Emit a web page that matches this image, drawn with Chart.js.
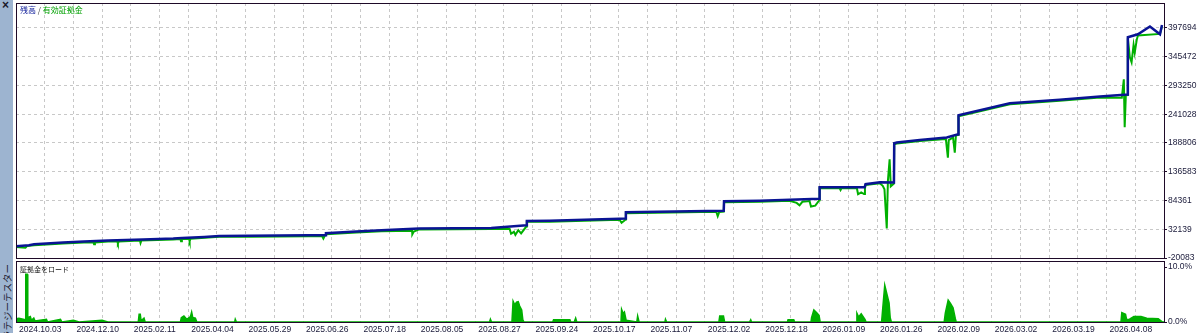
<!DOCTYPE html>
<html lang="ja">
<head>
<meta charset="UTF-8">
<title>ストラテジーテスター</title>
<script src="https://cdn.jsdelivr.net/npm/chart.js@4.4.0/dist/chart.umd.min.js"></script>
<style>
    body { margin: 0; width: 1200px; height: 333px; overflow: hidden; background: #fff; position: relative; font-family: "Liberation Sans", Arial, sans-serif; }
    canvas { position: absolute; left: 0; }
    #c1 { top: 0; }
    #c2 { top: 259px; }
    .side { position: absolute; left: 0; top: 0; width: 13px; height: 333px; background: #9db4d0; }
    .close { position: absolute; left: 2px; top: -2px; font-size: 12px; font-weight: bold; color: #1a1a2a; }
    .vtext { position: absolute; left: 1px; top: 364px; width: 100px; height: 12px; text-align: right; transform: rotate(-90deg); transform-origin: 0 0; font: 9.5px "Noto Sans CJK JP"; color: #202030; line-height: 12px; white-space: nowrap; }
    .title { position: absolute; left: 20px; top: 4px; font: 8px "Noto Sans CJK JP"; white-space: nowrap; line-height: 12px; }
    .load { position: absolute; left: 20px; top: 264px; font: 7px "Noto Sans CJK JP"; color: #101010; white-space: nowrap; line-height: 10px; }
</style>
</head>
<body>
<div class="side"><div class="close">×</div><div class="vtext">ストラテジーテスター</div></div>
<canvas id="c1" width="1200" height="266"></canvas>
<canvas id="c2" width="1200" height="74"></canvas>
<div class="title"><span style="color:#0a1898">残高</span><span style="color:#303030"> / </span><span style="color:#00a000">有効証拠金</span></div>
<div class="load">証拠金をロード</div>

<script>
// x axis is trade-position based: 0..400, one grid every 10, a date every 20
const dates = ['2024.10.03','2024.12.10','2025.02.11','2025.04.04','2025.05.29','2025.06.26','2025.07.18','2025.08.05','2025.08.27','2025.09.24',
               '2025.10.17','2025.11.07','2025.12.02','2025.12.18','2026.01.09','2026.01.26','2026.02.09','2026.03.02','2026.03.19','2026.04.08'];
const yTicks = [-20083, 32139, 84361, 136583, 188806, 241028, 293250, 345472, 397694];
const yLabels = ['-20083','32139','84361','136583','188806','241028','293250','345472','397694'];
const loadTicks = [0, 10];
const loadLabels = ['0.0%', '10.0%'];

// balance
const balX = [0,4.5,6.3,16.4,23.7,32.1,44.3,54.8,57.9,65.6,70.8,81.3,102,107.8,108,118.6,127.3,140.5,165.6,177.9,178,185.9,210.3,212.4,212.5,246.6,246.7,
              259.1,269.6,279.9,280,295.7,296,301,305.9,306,306.9,314.9,324.3,328.3,328.4,346.3,363.7,377.7,387.3,387.4,390.9,395.1,398.6,399.3];
const balY = [1300,3100,4900,8000,9800,11600,13400,15300,16300,18200,20000,20300,21200,21400,24900,28000,30300,33400,34500,39400,47200,47600,51200,51500,63000,65700,83000,
              83900,85700,87500,108400,108400,113900,117500,117000,188300,189600,194300,198700,204700,239200,261000,267300,273100,276800,380800,386300,400300,386300,403000];

// equity
const eqX = [0,3.3,3.8,6.3,16.4,23.7,27,27.2,27.5,32.1,35.3,35.5,35.8,43.2,43.4,43.7,54.8,57.3,57.5,57.8,60.3,60.5,60.8,70.8,81.3,102,106.7,107.1,107.5,108,
             118.6,127.3,138,138.1,138.6,140.5,165.6,172,172.5,173.5,174,175,176,177.8,178,185.9,210.3,211,211.8,212.4,212.5,244,244.5,245,246.6,246.7,
             259.1,269.6,272,273,274,276.5,277,278.5,279.9,280,287,287.3,287.6,293,293.4,294.5,295.5,295.8,296,301,302,302.6,303.4,303.8,304.4,304.8,305.9,
             306,306.9,314.9,324,324.7,325,326.5,327.1,327.5,328.3,328.4,346.3,363.7,377.7,385.3,386,386.3,386.7,387.3,387.4,388.1,388.7,389.4,389.8,390.5,390.9,398.6,399.3];
const eqY = [-300,-1500,1500,3000,6300,8000,8000,4900,8200,9800,9800,6200,9800,11700,7300,11700,13600,14400,10300,14500,14800,10300,14800,18300,18500,19400,19400,15200,19400,23100,
             26200,28500,29600,23000,28000,31800,32800,32800,24000,27500,22000,30500,24500,37000,45600,45800,49400,44000,47000,49800,61300,64000,56000,63300,64300,81300,
             82200,84000,80000,75700,82000,83300,73400,75000,84800,106600,106600,103500,106600,106700,95700,99000,96000,106700,112300,115800,111000,104800,33400,120000,159300,110000,115300,
             186600,187800,192600,196000,162300,194000,199000,171400,203000,203500,237400,259200,265600,271300,271000,304500,217400,275100,276000,379000,344500,335400,367000,353000,376200,384000,387000,401000];

// deposit load, %
const loadX = [0,1,2.5,3.2,3.4,3.9,4.1,5,5.4,6.2,6.6,10.6,11,15.5,16,20,22,30,32,42.6,42.9,43.3,43.6,44.6,45,57.3,57.6,58.5,59.5,60.8,61.2,61.6,62.5,63,76.2,76.4,76.8,
               165,165.3,165.7,172.8,173.2,173.8,174.4,175,175.5,176.2,176.6,177,187,187.3,193,193.3,194.5,195,195.4,210.8,211,211.6,212,212.6,216.3,216.6,217.1,226.1,226.3,226.7,
               244.9,245.2,246.5,246.9,255.6,256,256.3,268.8,269,271,271.3,277,277.2,278,279,279.8,280.2,292.9,293,293.6,294.5,295.8,296.2,
               301.6,302,302.7,303.4,304.2,304.6,305,323.4,323.8,324.8,325.6,326.5,327.3,327.6,385,385.3,386.6,387,388,389.5,392,394,398,399.5,400];
const loadY = [0.6,0.7,0.5,0.4,8.7,8.7,0.8,1.0,0.3,0.7,0.2,0.5,0,0.5,0,0.3,0,0.3,0,0,1.4,1.4,0.2,0.7,0,0,0.8,1.1,0.5,1.0,1.8,0.8,0.7,0,0,0.5,0,
               0,0.5,0,0,3.8,3.1,3.6,3.7,2.9,2.2,0.4,0,0,0.4,0.4,0,0,0.7,0,0,2.3,1.5,1.8,0.3,0,1.1,0,0,0.5,0,
               0,1.1,1.1,0,0,0.4,0,0,0.4,0.4,0,0,0.8,2.2,1.7,1.2,0,0,1.6,0.9,1.5,0.5,0,
               0,2.5,6.7,5.2,3.5,0.8,0,0,1.6,4.0,3.4,2.6,0.6,0,0,1.7,1.4,0.4,0.5,1.0,1.0,0.7,0.6,0,0];

const gridX = [];
for (let i = 0; i <= 400; i += 10) gridX.push(i);

const pts = (xs, ys) => xs.map((x, i) => ({ x: x, y: ys[i] }));
const axisFont = { family: 'Liberation Sans', size: 8.5 };
const axisColor = '#1a1a3a';

// no extra room for the end labels, the plot area is fixed by layout.padding
const noPad = s => { s.paddingTop = 0; s.paddingBottom = 0; s.paddingLeft = 0; s.paddingRight = 0; };

// frame round the plot area
const frame = {
    id: 'frame',
    afterDraw(chart) {
        const a = chart.chartArea, ctx = chart.ctx;
        ctx.save();
        ctx.strokeStyle = '#1e0a28';
        ctx.lineWidth = 1;
        ctx.strokeRect(a.left + 0.5, a.top + 0.5, a.right - a.left, a.bottom - a.top);
        ctx.restore();
    }
};

new Chart(document.getElementById('c1'), {
    type: 'line',
    data: {
        datasets: [
            { label: '残高', data: pts(balX, balY), borderColor: '#0a1494', borderWidth: 2.5, pointRadius: 0, order: 0 },
            { label: '有効証拠金', data: pts(eqX, eqY), borderColor: '#00b000', borderWidth: 2, pointRadius: 0, order: 1 }
        ]
    },
    options: {
        responsive: false,
        animation: false,
        events: [],
        layout: { padding: { left: 16, top: 3, right: 0, bottom: 0 } },
        plugins: { legend: { display: false }, tooltip: { enabled: false } },
        scales: {
            x: {
                type: 'linear', min: 0, max: 400,
                afterBuildTicks: s => { s.ticks = gridX.map(v => ({ value: v })); },
                afterFit: s => { s.height = 8; noPad(s); },
                ticks: { display: false },
                grid: { color: '#c8c8c8', drawTicks: false },
                border: { display: false, dash: [3, 3] }
            },
            y: {
                position: 'right', min: -20083, max: 443103,
                afterBuildTicks: s => { s.ticks = yTicks.map(v => ({ value: v })); },
                afterFit: s => { s.width = 36; noPad(s); },
                ticks: { font: axisFont, color: axisColor, padding: 1, callback: (v, i) => yLabels[i] },
                grid: { color: '#c8c8c8', tickColor: '#1e0a28', tickLength: 3 },
                border: { display: false, dash: [3, 3] }
            }
        }
    },
    plugins: [frame]
});

new Chart(document.getElementById('c2'), {
    type: 'line',
    data: {
        datasets: [
            { label: '証拠金をロード', data: pts(loadX, loadY), borderColor: '#00b000', backgroundColor: '#00b000', borderWidth: 1.5, fill: 'origin', pointRadius: 0 }
        ]
    },
    options: {
        responsive: false,
        animation: false,
        events: [],
        layout: { padding: { left: 16, top: 2, right: 0, bottom: 0 } },
        plugins: { legend: { display: false }, tooltip: { enabled: false } },
        scales: {
            x: {
                type: 'linear', min: 0, max: 400,
                afterBuildTicks: s => { s.ticks = gridX.map(v => ({ value: v })); },
                afterFit: s => { s.height = 11; noPad(s); },
                ticks: {
                    font: axisFont, color: axisColor, padding: 3, align: 'start', labelOffset: 3,
                    autoSkip: false, maxRotation: 0,
                    callback: v => (v % 20 === 0 && dates[v / 20]) ? dates[v / 20] : ''
                },
                grid: { color: '#c8c8c8', drawTicks: false },
                border: { display: false, dash: [3, 3] }
            },
            y: {
                position: 'right', min: 0, max: 11.1,
                afterBuildTicks: s => { s.ticks = loadTicks.map(v => ({ value: v })); },
                afterFit: s => { s.width = 36; noPad(s); },
                ticks: { font: axisFont, color: axisColor, padding: 1, callback: (v, i) => loadLabels[i] },
                grid: { drawOnChartArea: false, tickColor: '#1e0a28', tickLength: 3 },
                border: { display: false }
            }
        }
    },
    plugins: [frame]
});
</script>
</body>
</html>
